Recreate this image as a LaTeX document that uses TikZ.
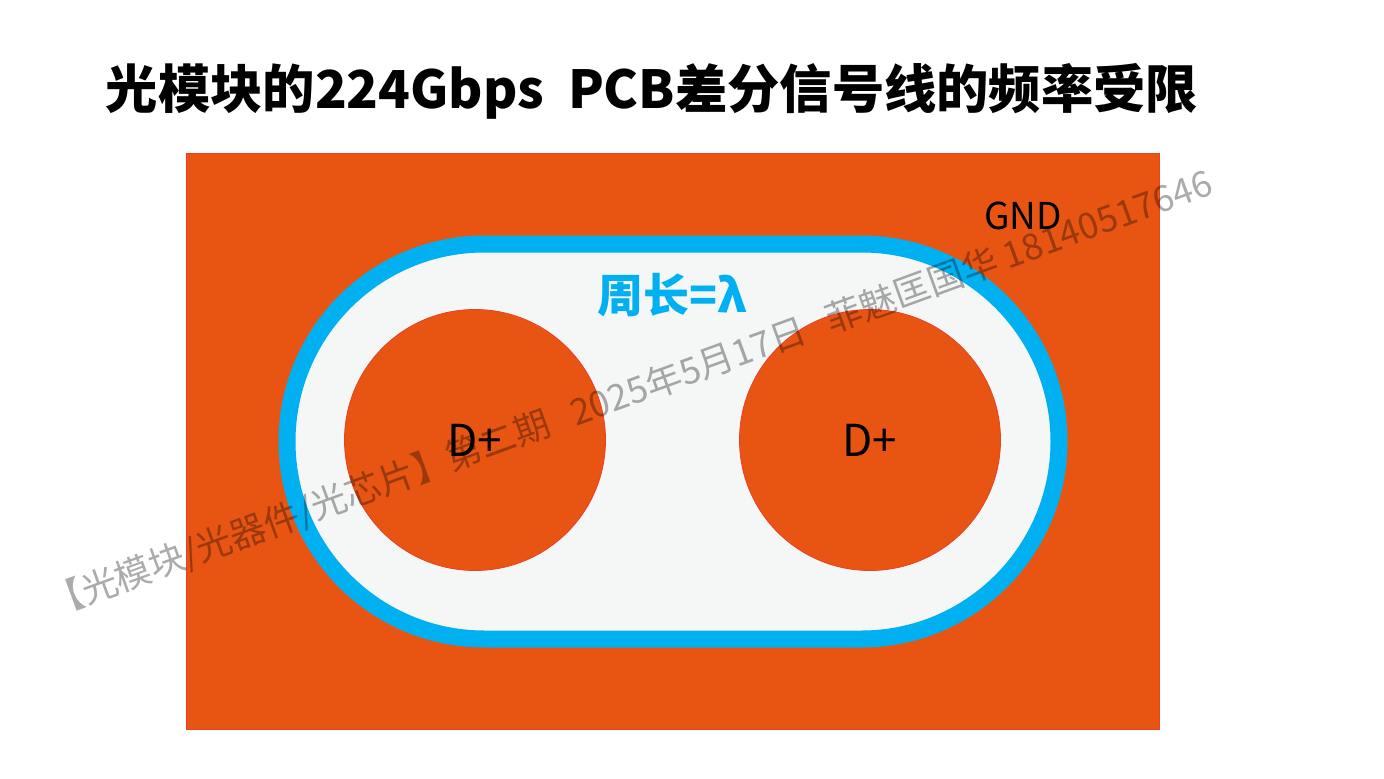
\documentclass[tikz,border=0pt]{standalone}
\usepackage{fontspec}
\setmainfont{Noto Sans CJK SC}
\definecolor{pcborange}{HTML}{E85513}
\definecolor{pcbedge}{HTML}{E8402A}
\definecolor{ringblue}{HTML}{00B0F0}
\definecolor{voidfill}{HTML}{F5F7F7}
\tikzset{
  via/.style={circle, minimum size=261pt, inner sep=0pt, fill=pcborange, draw=pcbedge, line width=0.8pt,
    font=\fontsize{44}{48}\selectfont, text=black},
  gndplane/.style={fill=pcborange, draw=pcbedge, line width=0.6pt},
  ring/.style={line width=17pt, draw=ringblue, fill=voidfill},
  wmark/.style={text=black, opacity=0.33, font=\fontsize{36}{40}\selectfont, rotate=20, inner sep=0pt},
}
\begin{document}
\begin{tikzpicture}[x=1pt,y=-1pt]
\useasboundingbox (0,0) rectangle (1384,779);
\fill[white] (0,0) rectangle (1384,779);
\node[font=\bfseries\fontsize{52.3}{60}\selectfont, anchor=center] (title) at (652,91) {光模块的224Gbps\ \ PCB差分信号线的频率受限};
\path[gndplane] (186,153) rectangle (1159,729);
\path[ring, rounded corners=197.5pt] (287,244) rectangle (1059,639);
\node[via] (dl) at (475,440) {D+};
\node[via] (dr) at (870,440) {D+};
\node[font=\fontsize{37}{40}\selectfont] (gnd) at (1023,216) {GND};
\node[font=\bfseries\fontsize{46}{50}\selectfont, text=ringblue] (peri) at (672,295) {周长=λ};
\node[wmark] (wm) at (630,394) {【光模块/光器件/光芯片】第二期\ \ \ 2025年5月17日\ \ \ 菲魅匡国华 18140517646};
\end{tikzpicture}
\end{document}
